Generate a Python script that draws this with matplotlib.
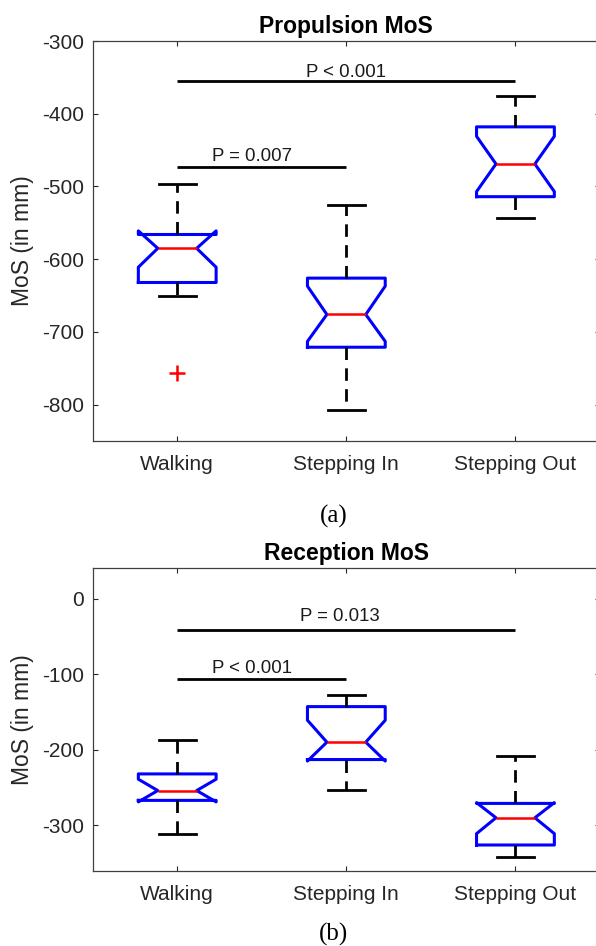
import matplotlib
matplotlib.use("Agg")
import matplotlib.pyplot as plt

plt.rcParams["axes.unicode_minus"] = False

# ---------------- data ----------------
categories = ["Walking", "Stepping In", "Stepping Out"]

# Propulsion MoS (mm)
prop_med = [-585, -676, -469]
prop_q1 = [-632, -721, -514]
prop_q3 = [-566, -626, -418]
prop_cilo = [-611, -713, -507]
prop_cihi = [-561, -637, -431]
prop_whislo = [-651, -808, -544]
prop_whishi = [-497, -526, -376]
prop_fliers = [[-756], [], []]

# Reception MoS (mm)
rec_med = [-254, -190, -290]
rec_q1 = [-267, -213, -326]
rec_q3 = [-232, -143, -271]
rec_cilo = [-269, -215, -311]
rec_cihi = [-239, -161, -270]
rec_whislo = [-312, -253, -342]
rec_whishi = [-187, -128, -208]
rec_fliers = [[], [], []]

# significance annotations: (x1, x2, line_y, label, text_x, text_baseline_y)
prop_sig = [(1, 3, -355, "P < 0.001", 2.0, -349),
            (1, 2, -473, "P = 0.007", 1.44, -465)]
rec_sig = [(1, 3, -41, "P = 0.013", 1.96, -30),
           (1, 2, -107, "P < 0.001", 1.44, -99)]

prop_title = "Propulsion MoS"
rec_title = "Reception MoS"
ylabel = "MoS (in mm)"
prop_yticks = [-800, -700, -600, -500, -400, -300]
rec_yticks = [-300, -200, -100, 0]

# ---------------- style ----------------
SANS = ["Liberation Sans", "DejaVu Sans"]
SERIF = ["Liberation Serif", "DejaVu Serif"]
AXC = "#262626"

fig = plt.figure(figsize=(5.96, 9.46), dpi=100)
ax1 = fig.add_axes([0.1555, 0.5338, 0.8512, 0.4228])
ax2 = fig.add_axes([0.1555, 0.0796, 0.8512, 0.3197])


def draw(ax, med, q1, q3, cilo, cihi, wlo, whi, fl, sig, title, ylim, yticks):
    stats = []
    for i, name in enumerate(categories):
        stats.append(dict(med=med[i], q1=q1[i], q3=q3[i], cilo=cilo[i],
                          cihi=cihi[i], whislo=wlo[i], whishi=whi[i],
                          fliers=fl[i], label=name))
    ax.bxp(stats, positions=[1, 2, 3], widths=0.46, capwidths=0.22,
           shownotches=True, showfliers=True,
           boxprops=dict(color="#0000ff", linewidth=2.2),
           medianprops=dict(color="#ff0000", linewidth=1.8),
           whiskerprops=dict(color="black", linewidth=2.0,
                             linestyle=(0, (4.5, 3.0))),
           capprops=dict(color="black", linewidth=2.0),
           flierprops=dict(marker="+", markeredgecolor="#ff0000",
                           markersize=11, markeredgewidth=1.8))
    for (x1, x2, ly, lab, tx, ty) in sig:
        ax.plot([x1, x2], [ly, ly], color="black", linewidth=2.0,
                solid_capstyle="butt")
        ax.text(tx, ty, lab, ha="center", va="baseline", fontsize=13.4,
                family=SANS, color="#1a1a1a")
    ax.set_xlim(0.5, 3.5)
    ax.set_ylim(*ylim)
    ax.set_yticks(yticks)
    ax.set_xticks([1, 2, 3])
    ax.set_xticklabels(categories)
    ax.set_title(title, fontsize=16.5, fontweight="bold", family=SANS,
                 color="black", pad=6)
    ax.set_ylabel(ylabel, fontsize=16.5, family=SANS, color=AXC, va="center")
    ax.yaxis.set_label_coords(-0.1374, 0.5)
    ax.tick_params(axis="both", direction="in", length=3.5, width=0.8,
                   colors=AXC, top=True, right=True, labelsize=15)
    ax.tick_params(axis="x", pad=10)
    ax.tick_params(axis="y", pad=6.5)
    for lab in ax.get_xticklabels() + ax.get_yticklabels():
        lab.set_family(SANS)
    for s in ax.spines.values():
        s.set_color("#404040")
        s.set_linewidth(0.9)


draw(ax1, prop_med, prop_q1, prop_q3, prop_cilo, prop_cihi, prop_whislo,
     prop_whishi, prop_fliers, prop_sig, prop_title, (-850, -300), prop_yticks)
draw(ax2, rec_med, rec_q1, rec_q3, rec_cilo, rec_cihi, rec_whislo,
     rec_whishi, rec_fliers, rec_sig, rec_title, (-360, 40), rec_yticks)

fig.text(334 / 596, 1 - 516 / 946, "(a)", ha="center", va="center",
         fontsize=18, family=SERIF, color="black")
fig.text(333.5 / 596, 1 - 934 / 946, "(b)", ha="center", va="center",
         fontsize=18, family=SERIF, color="black")

fig.savefig("out.png", dpi=100)
